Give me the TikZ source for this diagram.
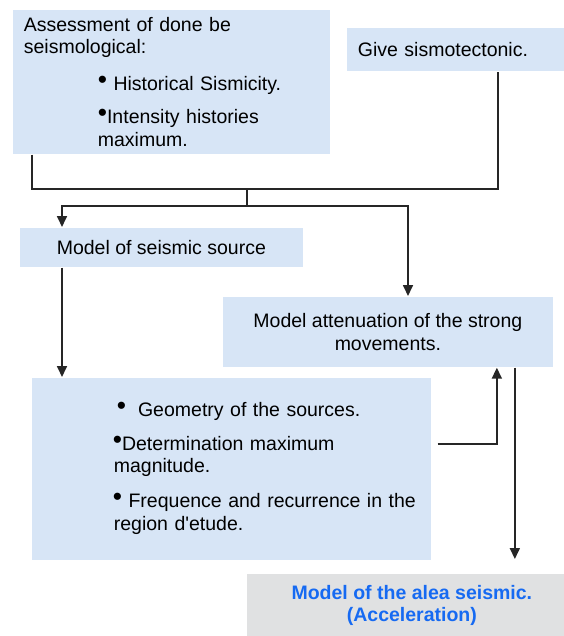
\documentclass[tikz,border=0pt]{standalone}
\usepackage{fontspec}
\setmainfont{Liberation Sans}
\usetikzlibrary{arrows.meta}

\definecolor{paleblue}{RGB}{215,229,246}
\definecolor{marble}{RGB}{224,225,226}
\definecolor{aleablue}{RGB}{22,106,242}
\newcommand{\blt}{\raisebox{2pt}{\scalebox{1.35}{\textbullet}}}

\begin{document}
\begin{tikzpicture}[x=1pt,y=-1pt,line width=1.7pt,draw=black!85,
	box/.style={fill=paleblue, draw=none, inner sep=0pt, font=\fontsize{19.5}{22.5}\selectfont},
	arr/.style={-{Triangle[length=11pt,width=10pt]}}]
			\useasboundingbox (0,0) rectangle (563,636);

			\node (assess) [box, anchor=north west, minimum width=317pt, minimum height=144pt, text width=295pt, inner xsep=11pt, align=left] at (12,9) {Assessment of done be\\seismological:\\[14pt]\hspace*{74pt}\blt\ Historical Sismicity.\\[11pt]\hspace*{74pt}\blt Intensity histories\\\hspace*{74pt}maximum.};
			\node (sismo) [box, anchor=north west, minimum width=217pt, minimum height=43pt, text width=195pt, inner xsep=11pt, align=left] at (346,27) {Give sismotectonic.};
			\node (source) [box, anchor=north west, minimum width=283pt, minimum height=39pt] at (19,227) {Model of seismic source};
			\node (atten) [box, anchor=north west, minimum width=330pt, minimum height=70pt, align=center] at (222,296) {Model attenuation of the strong\\movements.};
			\node (geom) [box, anchor=north west, minimum width=399pt, minimum height=182pt, text width=399pt, align=left] at (31,377) {\hspace*{85pt}\blt\hspace{12pt}Geometry of the sources.\\[11pt]\hspace*{81pt}\blt Determination maximum\\\hspace*{82pt}magnitude.\\[12pt]\hspace*{81pt}\blt\ Frequence and recurrence in the\\[1pt]\hspace*{82pt}region d\textquotesingle etude.};
			\node (alea) [box, fill=marble, anchor=north west, minimum width=317pt, minimum height=63pt, align=center, text=aleablue, font=\fontsize{19.5}{22.5}\selectfont\bfseries] at (246,573) {\hspace*{13pt}Model of the alea seismic.\\\hspace*{13pt}(Acceleration)};

			\coordinate (split) at (247,189);
			\coordinate (fork) at (247,206);

			\draw ([xshift=20pt]assess.south west) |- (split) -| ([xshift=-67pt]sismo.south east);
			\draw (split) -- (fork);
			\draw [arr] (fork) -| ([xshift=43pt]source.north west);
			\draw [arr] (fork) -| ([xshift=186pt]atten.north west);
			\draw [arr] ([xshift=43pt]source.south west) -- ([xshift=43pt]source.south west |- geom.north);
			\draw [arr] ([xshift=6pt,yshift=25pt]geom.east) -| ([xshift=109pt]atten.south);
			\draw [arr, shorten >=14pt] ([xshift=127pt]atten.south) -- ([xshift=127pt]atten.south |- alea.north);
\end{tikzpicture}
\end{document}
